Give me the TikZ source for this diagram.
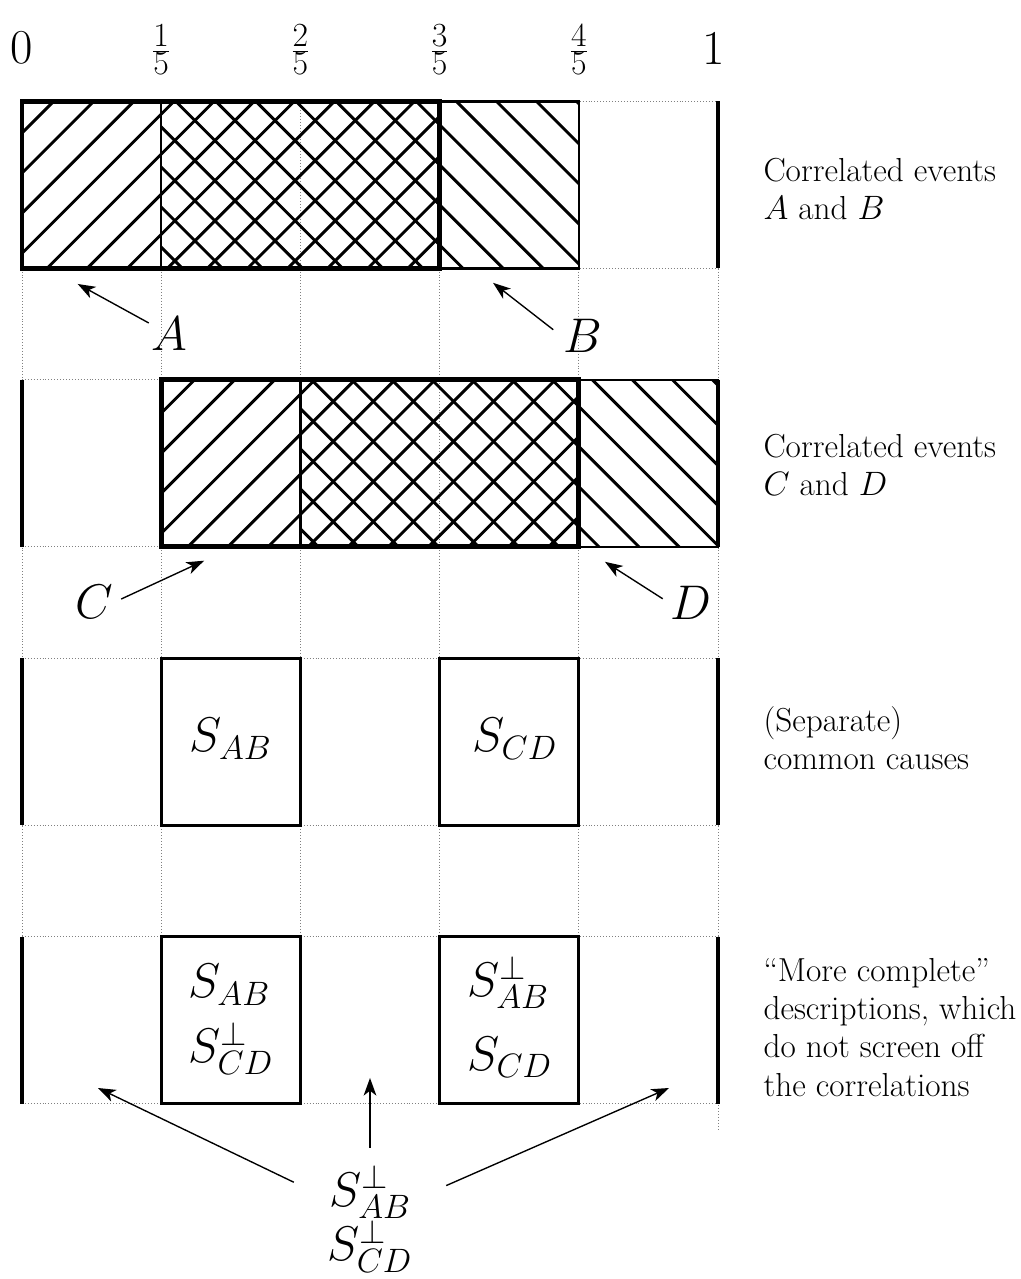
\documentclass[tikz,border=0pt]{standalone}
\usepackage{tikz}
\usetikzlibrary{arrows.meta}

% hatching of a region: x1, y1, x2, y2, phase
\newcommand{\hatchne}[5]{%
  \begin{scope}
    \clip (#1,#2) rectangle (#3,#4);
    \foreach \k in {-32,...,-2}
      \draw[hatch] (\k*0.72+#5,0) -- ++(24,24);
  \end{scope}}
\newcommand{\hatchnw}[5]{%
  \begin{scope}
    \clip (#1,#2) rectangle (#3,#4);
    \foreach \k in {23,...,46}
      \draw[hatch] (\k*0.72+#5,0) -- ++(-24,24);
  \end{scope}}

\begin{document}
\begin{tikzpicture}[
    gridline/.style={gray, line width=0.5pt, dash pattern=on 0.5pt off 1pt},
    bar/.style={line width=2pt},
    hatch/.style={line width=1.5pt},
    thickbox/.style={line width=2.5pt},
    thinbox/.style={line width=1.2pt},
    causebox/.style={line width=1.4pt},
    arr/.style={-{Stealth[length=9pt,width=6.5pt,inset=2.5pt]}, line width=0.7pt},
    lbl/.style={font=\fontsize{24}{28}\selectfont, inner sep=1pt},
    tick/.style={font=\fontsize{26}{30}\selectfont, inner sep=0pt},
    frac/.style={font=\fontsize{17}{20}\selectfont, inner sep=0pt},
    desc/.style={font=\fontsize{17}{19.6}\selectfont, align=left, anchor=west, inner sep=0pt}
  ]
  \useasboundingbox (-0.395,0) rectangle (17.94,22.97);

  % dotted grid
  \foreach \x in {0,2.5,5,7.5,10}
    \draw[gridline] (\x,21.15) -- (\x,3.15);
  \draw[gridline] (12.5,21.15) -- (12.5,2.68);
  \foreach \y in {21.15,16.15,11.15,6.15}{
    \draw[gridline] (0,\y) -- (12.5,\y);
    \draw[gridline] (0,\y-3) -- (12.5,\y-3);
  }

  % scale 0 ... 1
  \node[tick] (t0) at (0,22.12) {$0$};
  \foreach \n/\x in {1/2.5,2/5,3/7.5,4/10}
    \node[frac] (t\n) at (\x,22.08) {$\frac{\displaystyle\n}{\displaystyle 5}$};
  \node[tick] (t5) at (12.43,22.1) {$1$};

  % events A, B
  \hatchne{0}{18.15}{7.5}{21.15}{0.3}
  \hatchnw{2.5}{18.15}{10}{21.15}{0.15}
  % events C, D
  \hatchne{2.5}{13.15}{10}{16.15}{-0.09}
  \hatchnw{5}{13.15}{12.5}{16.15}{0.47}

  % ends of the interval
  \foreach \y in {21.15,16.15,11.15,6.15}{
    \draw[bar] (0,\y) -- (0,\y-3);
    \draw[bar] (12.5,\y) -- (12.5,\y-3);
  }

  \draw[thinbox] (2.5,18.15) rectangle (10,21.15);
  \draw[thickbox] (0,18.15) rectangle (7.5,21.15);
  \draw[thinbox] (5,13.15) rectangle (12.5,16.15);
  \draw[thickbox] (2.5,13.15) rectangle (10,16.15);

  % common causes
  \draw[causebox] (2.5,8.15) rectangle (5,11.15);
  \draw[causebox] (7.5,8.15) rectangle (10,11.15);
  \node[lbl, anchor=base] (sab) at (3.75,9.465) {$S_{AB}$};
  \node[lbl, anchor=base] (scd) at (8.85,9.465) {$S_{CD}$};

  % more complete descriptions
  \draw[causebox] (2.5,3.15) rectangle (5,6.15);
  \draw[causebox] (7.5,3.15) rectangle (10,6.15);
  \node[lbl, anchor=base] (sab1) at (3.72,5.05) {$S_{AB}$};
  \node[lbl, anchor=base] (pcd1) at (3.75,3.88) {$S^{\perp}_{CD}$};
  \node[lbl, anchor=base] (pab2) at (8.73,5.07) {$S^{\perp}_{AB}$};
  \node[lbl, anchor=base] (scd2) at (8.76,3.75) {$S_{CD}$};

  % labels with arrows
  \node[lbl] (labA) at (2.64,16.97) {$A$};
  \node[lbl] (labB) at (10.07,16.94) {$B$};
  \node[lbl] (labC) at (1.29,12.16) {$C$};
  \node[lbl] (labD) at (12.02,12.15) {$D$};
  \coordinate (tipA) at (1.0,17.87);
  \coordinate (tipB) at (8.46,17.89);
  \coordinate (tipC) at (3.27,12.9);
  \coordinate (tipD) at (10.47,12.88);
  \draw[arr] (labA) -- (tipA);
  \draw[arr, shorten <=5pt] (labB.west) -- (tipB);
  \draw[arr, shorten <=3.5pt] (labC.east) -- (tipC);
  \draw[arr, shorten <=3.5pt] (labD.west) -- (tipD);

  \node[lbl, align=center, inner xsep=0.6cm, inner ysep=0.3cm] (perp) at (6.25,1.08)
    {$S^{\perp}_{AB}$\\$S^{\perp}_{CD}$};
  \coordinate (tipL) at (1.365,3.43);
  \coordinate (tipM) at (6.25,3.61);
  \coordinate (tipR) at (11.62,3.43);
  \draw[arr] (perp) -- (tipL);
  \draw[arr] (perp) -- (tipM);
  \draw[arr] (perp) -- (tipR);

  % descriptions
  \node[desc] (txtab) at (13.31,19.58) {Correlated events\\$A$ and $B$};
  \node[desc] (txtcd) at (13.31,14.62) {Correlated events\\$C$ and $D$};
  \node[desc] (txtsep) at (13.31,9.71) {(Separate)\\common causes};
  \node[desc] (txtmore) at (13.31,4.52) {“More complete”\\descriptions, which\\do not screen off\\the correlations};
\end{tikzpicture}
\end{document}
